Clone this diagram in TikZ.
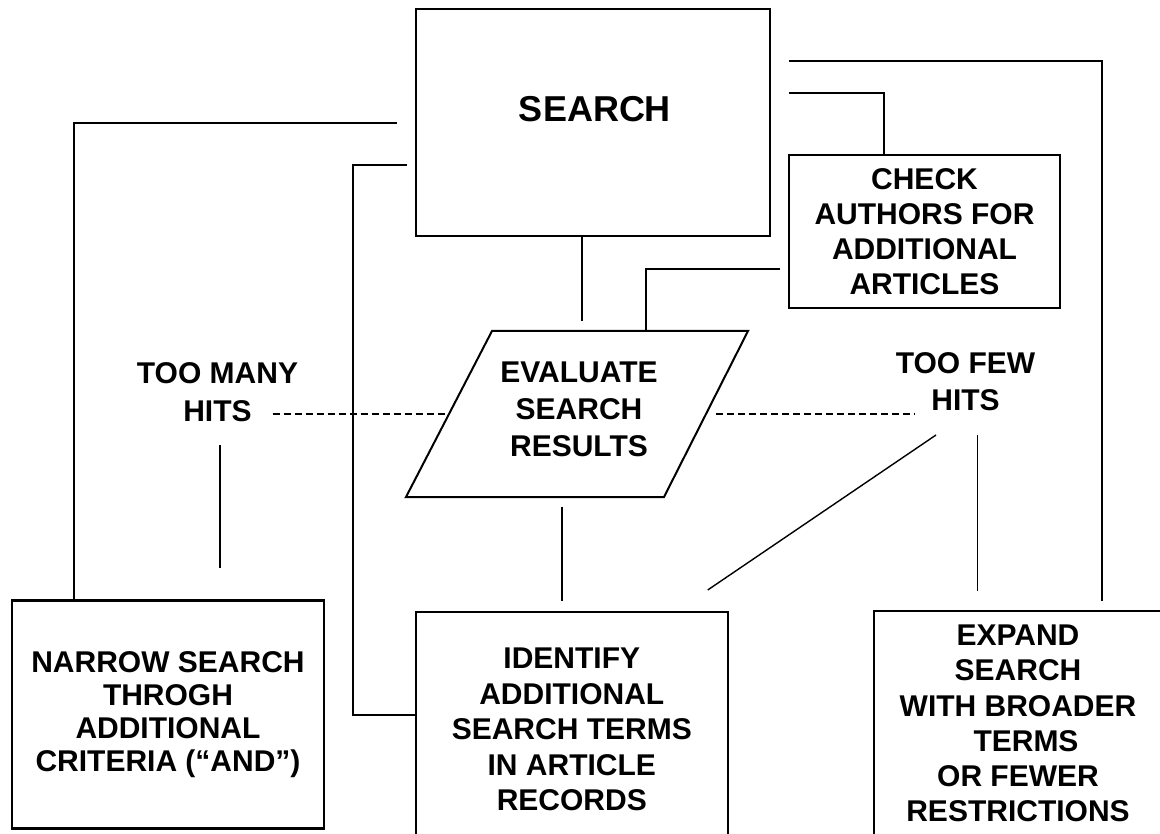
\documentclass[tikz,border=0pt]{standalone}
\usepackage{fontspec}
\setmainfont{Liberation Sans}
\begin{document}
\begin{tikzpicture}[x=1pt,y=-1pt,
  box/.style={draw, line width=2.2pt, inner sep=0pt},
  conn/.style={line width=1.8pt},
  thinconn/.style={line width=1.4pt},
  hitline/.style={line width=1.5pt, dash pattern=on 7pt off 4pt},
  txt/.style={font=\fontsize{30}{35}\selectfont\bfseries, align=center, inner sep=0pt}]
\useasboundingbox (0,0) rectangle (1160,834);
\clip (0,0) rectangle (1160,834);

% boxes
\node[box, minimum width=354pt, minimum height=227pt] (search) at (593,122.5) {};
\node[txt, font=\fontsize{36}{40}\selectfont\bfseries] (searchtxt) at (595,108.7) {SEARCH};
\node[box, txt, minimum width=271pt, minimum height=153pt] (check) at (924.5,231.5)
  {CHECK\\AUTHORS FOR\\ADDITIONAL\\ARTICLES};
\node[box, txt, font=\fontsize{30}{33}\selectfont\bfseries, minimum width=312pt, minimum height=228pt] (narrow) at (168,714.5)
  {NARROW SEARCH\\THROGH\\ADDITIONAL\\CRITERIA (“AND”)};
\node[box, txt, font=\fontsize{30}{35.5}\selectfont\bfseries, minimum width=311.7pt, minimum height=235.6pt] (identify) at (571.8,729.5)
  {IDENTIFY\\ADDITIONAL\\SEARCH TERMS\\IN ARTICLE\\RECORDS};
\node[box, minimum width=320pt, minimum height=260pt] (expand) at (1033.7,741) {};
\node[txt, font=\fontsize{30}{35.3}\selectfont\bfseries] (expandtxt) at (1018,723.5)
  {EXPAND\\SEARCH\\WITH BROADER\\\hspace*{16pt}TERMS\\OR FEWER\\RESTRICTIONS};

% parallelogram
\coordinate (pTL) at (492,331);
\coordinate (pTR) at (748,331);
\coordinate (pBR) at (664,497);
\coordinate (pBL) at (406,497);
\draw[line width=2pt, line join=miter] (pTL) -- (pTR) -- (pBR) -- (pBL) -- cycle;
\node[txt, font=\fontsize{30}{37}\selectfont\bfseries] (eval) at (579,409.7) {EVALUATE\\SEARCH\\RESULTS};

% hit labels
\node[txt, font=\fontsize{30}{38}\selectfont\bfseries] (many) at (217.5,392) {TOO MANY\\HITS};
\node[txt, font=\fontsize{30}{37}\selectfont\bfseries] (few) at (965.5,381.5) {TOO FEW\\HITS};

% connector coordinates
\coordinate (l1e) at (582,321);
\coordinate (l2s) at (780,269);
\coordinate (evaltop) at (646,331);
\coordinate (l3s) at (789,92.7);
\coordinate (l4s) at (789,61);
\coordinate (l4e) at (1102,601);
\coordinate (l5s) at (396.7,122.7);
\coordinate (l6s) at (406.7,165);
\coordinate (l6c) at (353.3,715);
\coordinate (l7s) at (562.3,506.7);
\coordinate (l7e) at (562.3,600.7);
\coordinate (fewa) at (936,435);
\coordinate (fewb) at (707.7,590);
\coordinate (fewc) at (977.5,435);
\coordinate (fewd) at (977.5,591);
\coordinate (manya) at (220,445);
\coordinate (manyb) at (220,568);
\coordinate (d1s) at (272.7,414);
\coordinate (d1e) at (448,414);
\coordinate (d2s) at (716,414);
\coordinate (d2e) at (915,414);

% connectors
\draw[conn] (search.south -| l1e) -- (l1e);
\draw[conn] (l2s) -| (evaltop);
\draw[conn] (l3s) -| ([xshift=-40.5pt]check.north);
\draw[conn] (l4s) -| (l4e);
\draw[conn] (l5s) -| ([xshift=-94pt]narrow.north);
\draw[conn] (l6s) -| (l6c) -- (identify.west |- l6c);
\draw[conn] (l7s) -- (l7e);
\draw[thinconn] (fewa) -- (fewb);
\draw[conn] (fewc) -- (fewd);
\draw[thinconn] (manya) -- (manyb);
\draw[hitline] (d1s) -- (d1e);
\draw[hitline] (d2s) -- (d2e);
\end{tikzpicture}
\end{document}
